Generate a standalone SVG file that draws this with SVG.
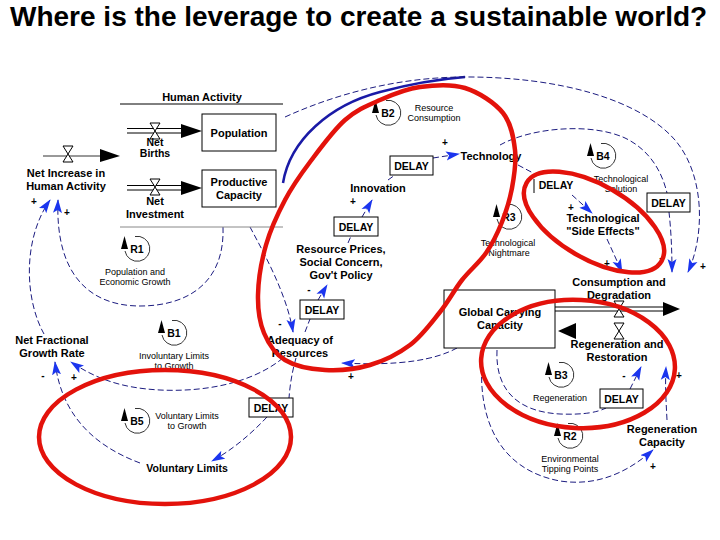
<svg xmlns="http://www.w3.org/2000/svg" xmlns:xlink="http://www.w3.org/1999/xlink" width="720" height="540" viewBox="0 0 720 540">
<style>
.d{fill:none;stroke:#1c1c80;stroke-width:1;stroke-dasharray:6 3}
.t{font-family:"Liberation Sans",Arial,sans-serif;font-size:11px;font-weight:bold;text-anchor:middle;fill:#000}
.s{font-family:"Liberation Sans",Arial,sans-serif;font-size:9px;text-anchor:middle;fill:#000}
.g{font-family:"Liberation Sans",Arial,sans-serif;font-size:11px;font-weight:bold;text-anchor:middle;fill:#000}
.dl{font-family:"Liberation Sans",Arial,sans-serif;font-size:10.5px;font-weight:bold;text-anchor:middle;fill:#000}
.box{fill:#fff;stroke:#000;stroke-width:1}
.pipe{stroke:#000;stroke-width:1;fill:none}
.valve{fill:#fff;stroke:#000;stroke-width:1}
.red{fill:none;stroke:#e3120b;stroke-width:4.5}
</style>
<defs>
<marker id="a" viewBox="0 0 14 10" refX="13" refY="5" markerWidth="14" markerHeight="10" markerUnits="userSpaceOnUse" orient="auto"><path d="M0,0.5 L14,5 L0,9.5 L3,5 Z" fill="#1b35ee"/></marker>
<g id="loop"><path d="M-12,2 A12.5,12.5 0 1 0 -2,-12.5" fill="none" stroke="#000" stroke-width="0.8"/><path d="M-12.5,-13 L-16,0 L-9,0 Z" fill="#000"/></g>
<path id="vl" d="M-5,-8 L5,-8 L-5,8 L5,8 Z"/>
</defs>
<rect width="720" height="540" fill="#fff"/>
<text x="10" y="26" font-family="'Liberation Sans',Arial,sans-serif" font-size="28" font-weight="bold" fill="#000">Where is the leverage to create a sustainable world?</text>

<g id="connectors">
<path d="M283,183 C290,140 330,105 380,92 C410,84 440,79 465,77" fill="none" stroke="#1a1aa6" stroke-width="2.5"/>
<path class="d" d="M285,117 C340,92 400,78 460,77 C560,76 640,100 675,140 C705,175 705,235 688,272" marker-end="url(#a)"/>
<path class="d" d="M500,145 C530,128 590,122 625,138 C650,150 662,172 667,193"/>
<path class="d" d="M669,212 C671,230 672,250 672,272" marker-end="url(#a)"/>
<path class="d" d="M518,165 L535,174"/>
<path class="d" d="M572,195 L592,213" marker-end="url(#a)"/>
<path class="d" d="M607,239 L622,272" marker-end="url(#a)"/>
<path class="d" d="M388,180 L395,175"/>
<path class="d" d="M433,158 L459,154" marker-end="url(#a)"/>
<path class="d" d="M362,217 L372,200" marker-end="url(#a)"/>
<path class="d" d="M348,243 L351,236"/>
<path class="d" d="M318,300 L327,285" marker-end="url(#a)"/>
<path class="d" d="M305,332 L310,319"/>
<path class="d" d="M250,227 C265,255 287,295 293,332" marker-end="url(#a)"/>
<path class="d" d="M457,348 C435,360 400,366 342,363" marker-end="url(#a)"/>
<path class="d" d="M283,358 C250,385 200,392 160,390 C120,388 95,378 71,362" marker-end="url(#a)"/>
<path class="d" d="M296,358 C292,372 290,385 289,398"/>
<path class="d" d="M267,417 C250,435 232,450 212,461" marker-end="url(#a)"/>
<path class="d" d="M140,463 C100,448 62,420 55,362" marker-end="url(#a)"/>
<path class="d" d="M223,227 C225,285 185,306 140,306 C90,306 55,275 58,200" marker-end="url(#a)"/>
<path class="d" d="M44,334 C25,300 22,240 50,200" marker-end="url(#a)"/>
<path class="d" d="M497,350 C495,392 520,412 560,414 C585,415 598,412 606,408"/>
<path class="d" d="M483,350 C475,420 500,470 560,481 C600,487 630,470 653,450" marker-end="url(#a)"/>
<path class="d" d="M667,420 C666,400 665,385 666,367" marker-end="url(#a)"/>
<path class="d" d="M630,389 L641,367" marker-end="url(#a)"/>
</g>

<g id="human-activity">
<text class="g" x="202" y="101">Human Activity</text>
<line x1="120" y1="104" x2="283" y2="104" stroke="#000" stroke-width="1"/>
<line x1="120" y1="227" x2="283" y2="227" stroke="#888" stroke-width="1"/>
</g>
<g id="population">
<rect class="box" x="202" y="114" width="74" height="37"/>
<text class="g" x="239" y="137">Population</text>
</g>
<g id="productive-capacity">
<rect class="box" x="202" y="170" width="74" height="37"/>
<text class="g" x="239" y="186">Productive</text>
<text class="g" x="239" y="199">Capacity</text>
</g>
<g id="net-births">
<line class="pipe" x1="127" y1="128.5" x2="183" y2="128.5"/>
<line class="pipe" x1="127" y1="133" x2="183" y2="133"/>
<path d="M181,124 L202,131 L181,138 Z" fill="#000"/>
<use xlink:href="#vl" href="#vl" class="valve" x="155" y="131"/>
<text class="g" x="155" y="146" style="font-size:10.5px">Net</text>
<text class="g" x="155" y="157" style="font-size:10.5px">Births</text>
</g>
<g id="net-investment">
<line class="pipe" x1="127" y1="185.5" x2="183" y2="185.5"/>
<line class="pipe" x1="127" y1="190" x2="183" y2="190"/>
<path d="M181,181 L202,188 L181,195 Z" fill="#000"/>
<use xlink:href="#vl" href="#vl" class="valve" x="155" y="187"/>
<text class="g" x="155" y="205">Net</text>
<text class="g" x="155" y="218">Investment</text>
</g>
<g id="net-increase">
<line x1="43" y1="156" x2="100" y2="156" stroke="#333" stroke-width="1"/>
<use xlink:href="#vl" href="#vl" class="valve" x="68" y="154"/>
<path d="M100,149 L120,156 L100,162 Z" fill="#000"/>
<text class="g" x="66" y="177">Net Increase in</text>
<text class="g" x="66" y="190">Human Activity</text>
</g>
<g id="net-fractional-growth-rate">
<text class="g" x="52" y="344">Net Fractional</text>
<text class="g" x="52" y="357">Growth Rate</text>
</g>
<g id="adequacy-of-resources">
<text class="g" x="300" y="344">Adequacy of</text>
<text class="g" x="300" y="357">Resources</text>
</g>
<g id="resource-prices">
<text class="g" x="341" y="253">Resource Prices,</text>
<text class="g" x="341" y="266">Social Concern,</text>
<text class="g" x="341" y="279">Gov't Policy</text>
</g>
<g id="innovation"><text class="g" x="378" y="192">Innovation</text></g>
<g id="technology"><text class="g" x="491" y="160">Technology</text></g>
<g id="side-effects">
<text class="g" x="603" y="222">Technological</text>
<text class="g" x="603" y="235">&quot;Side Effects&quot;</text>
</g>
<g id="consumption-degradation">
<line class="pipe" x1="555" y1="307" x2="665" y2="307"/>
<line class="pipe" x1="555" y1="311" x2="665" y2="311"/>
<path d="M663,302 L680,309 L663,316 Z" fill="#000"/>
<use xlink:href="#vl" href="#vl" class="valve" x="619" y="309"/>
<text class="g" x="619" y="286">Consumption and</text>
<text class="g" x="619" y="299">Degradation</text>
</g>
<g id="global-carrying-capacity">
<rect class="box" x="444" y="290" width="111" height="58"/>
<text class="g" x="500" y="316">Global Carrying</text>
<text class="g" x="500" y="329">Capacity</text>
</g>
<g id="regeneration-restoration">
<use xlink:href="#vl" href="#vl" class="valve" x="619" y="331"/>
<path d="M576,323 L558,331 L576,339 Z" fill="#000"/>
<text class="g" x="617" y="348">Regeneration and</text>
<text class="g" x="617" y="361">Restoration</text>
</g>
<g id="regeneration-capacity">
<text class="g" x="662" y="433">Regeneration</text>
<text class="g" x="662" y="446">Capacity</text>
</g>
<g id="voluntary-limits"><text class="g" x="187" y="472" style="font-size:10.5px">Voluntary Limits</text></g>

<g id="delay-1"><rect class="box" x="390" y="156" width="43" height="19"/><text class="dl" x="411.5" y="170">DELAY</text></g>
<g id="delay-2"><rect class="box" x="334" y="217" width="44" height="19"/><text class="dl" x="356" y="231">DELAY</text></g>
<g id="delay-3"><rect class="box" x="300" y="300" width="44" height="19"/><text class="dl" x="322" y="314">DELAY</text></g>
<g id="delay-4"><line x1="534" y1="179" x2="534" y2="193" stroke="#000"/><text class="dl" x="556" y="189">DELAY</text></g>
<g id="delay-5"><rect class="box" x="647" y="193" width="43" height="19"/><text class="dl" x="668.5" y="207">DELAY</text></g>
<g id="delay-6"><rect class="box" x="249" y="398" width="44" height="19"/><text class="dl" x="271" y="412">DELAY</text></g>
<g id="delay-7"><rect class="box" x="600" y="389" width="43" height="19"/><text class="dl" x="621.5" y="403">DELAY</text></g>

<g id="loop-b2"><use xlink:href="#loop" href="#loop" x="388" y="113"/><text class="dl" x="388" y="117">B2</text>
<text class="s" x="434" y="111">Resource</text><text class="s" x="434" y="121">Consumption</text></g>
<g id="loop-b4"><use xlink:href="#loop" href="#loop" x="603" y="156"/><text class="dl" x="603" y="160">B4</text>
<text class="s" x="621" y="182">Technological</text><text class="s" x="621" y="192">Solution</text></g>
<g id="loop-r3"><use xlink:href="#loop" href="#loop" x="509" y="217"/><text class="dl" x="509" y="221">R3</text>
<text class="s" x="508" y="246">Technological</text><text class="s" x="509" y="256">Nightmare</text></g>
<g id="loop-r1"><use xlink:href="#loop" href="#loop" x="137" y="249"/><text class="dl" x="137" y="253">R1</text>
<text class="s" x="135" y="275">Population and</text><text class="s" x="135" y="285">Economic Growth</text></g>
<g id="loop-b1"><use xlink:href="#loop" href="#loop" x="174" y="333"/><text class="dl" x="174" y="337">B1</text>
<text class="s" x="174" y="359">Involuntary Limits</text><text class="s" x="174" y="369">to Growth</text></g>
<g id="loop-b5"><use xlink:href="#loop" href="#loop" x="137" y="421"/><text class="dl" x="137" y="425">B5</text>
<text class="s" x="187" y="419">Voluntary Limits</text><text class="s" x="187" y="429">to Growth</text></g>
<g id="loop-b3"><use xlink:href="#loop" href="#loop" x="561" y="375"/><text class="dl" x="561" y="379">B3</text>
<text class="s" x="560" y="401">Regeneration</text></g>
<g id="loop-r2"><use xlink:href="#loop" href="#loop" x="570" y="436"/><text class="dl" x="570" y="440">R2</text>
<text class="s" x="570" y="462">Environmental</text><text class="s" x="570" y="472">Tipping Points</text></g>

<g id="polarities" class="t" style="font-size:10px">
<text x="34" y="205">+</text><text x="67" y="216">+</text><text x="445" y="146">+</text><text x="353" y="205">+</text>
<text x="309" y="293">-</text><text x="280" y="327">-</text><text x="351" y="380">+</text><text x="43" y="379">-</text>
<text x="74" y="381">+</text><text x="571" y="211">+</text><text x="607" y="267">+</text><text x="661" y="261">-</text>
<text x="703" y="270">+</text><text x="624" y="379">-</text><text x="679" y="379">+</text><text x="653" y="470">+</text>
</g>

<g id="highlights">
<path class="red" d="M420,87 C434.2,85 451.2,83.7 465,88 C478.8,92.3 494.7,102.7 503,113 C511.3,123.3 513.5,137.5 515,150 C516.5,162.5 514.2,176 512,188 C509.8,200 506.3,211.2 502,222 C497.7,232.8 492.7,243.3 486,253 C479.3,262.7 469.7,270.2 462,280 C454.3,289.8 448.7,301.2 440,312 C431.3,322.8 421.7,336.2 410,345 C398.3,353.8 384.2,360.8 370,365 C355.8,369.2 339.2,370.8 325,370 C310.8,369.2 295.2,366.2 285,360 C274.8,353.8 268.5,343.8 264,333 C259.5,322.2 257.7,309.7 258,295 C258.3,280.3 261.5,260.8 266,245 C270.5,229.2 277.7,213.8 285,200 C292.3,186.2 300,175.3 310,162 C320,148.7 333.3,130.3 345,120 C356.7,109.7 367.5,105.5 380,100 C392.5,94.5 405.8,88.8 420,87 Z"/>
<ellipse class="red" cx="594" cy="222" rx="78" ry="37" transform="rotate(30 594 222)"/>
<ellipse class="red" cx="578" cy="364" rx="97" ry="64" transform="rotate(3 578 364)"/>
<ellipse class="red" cx="165" cy="437" rx="126" ry="67"/>
</g>
</svg>
